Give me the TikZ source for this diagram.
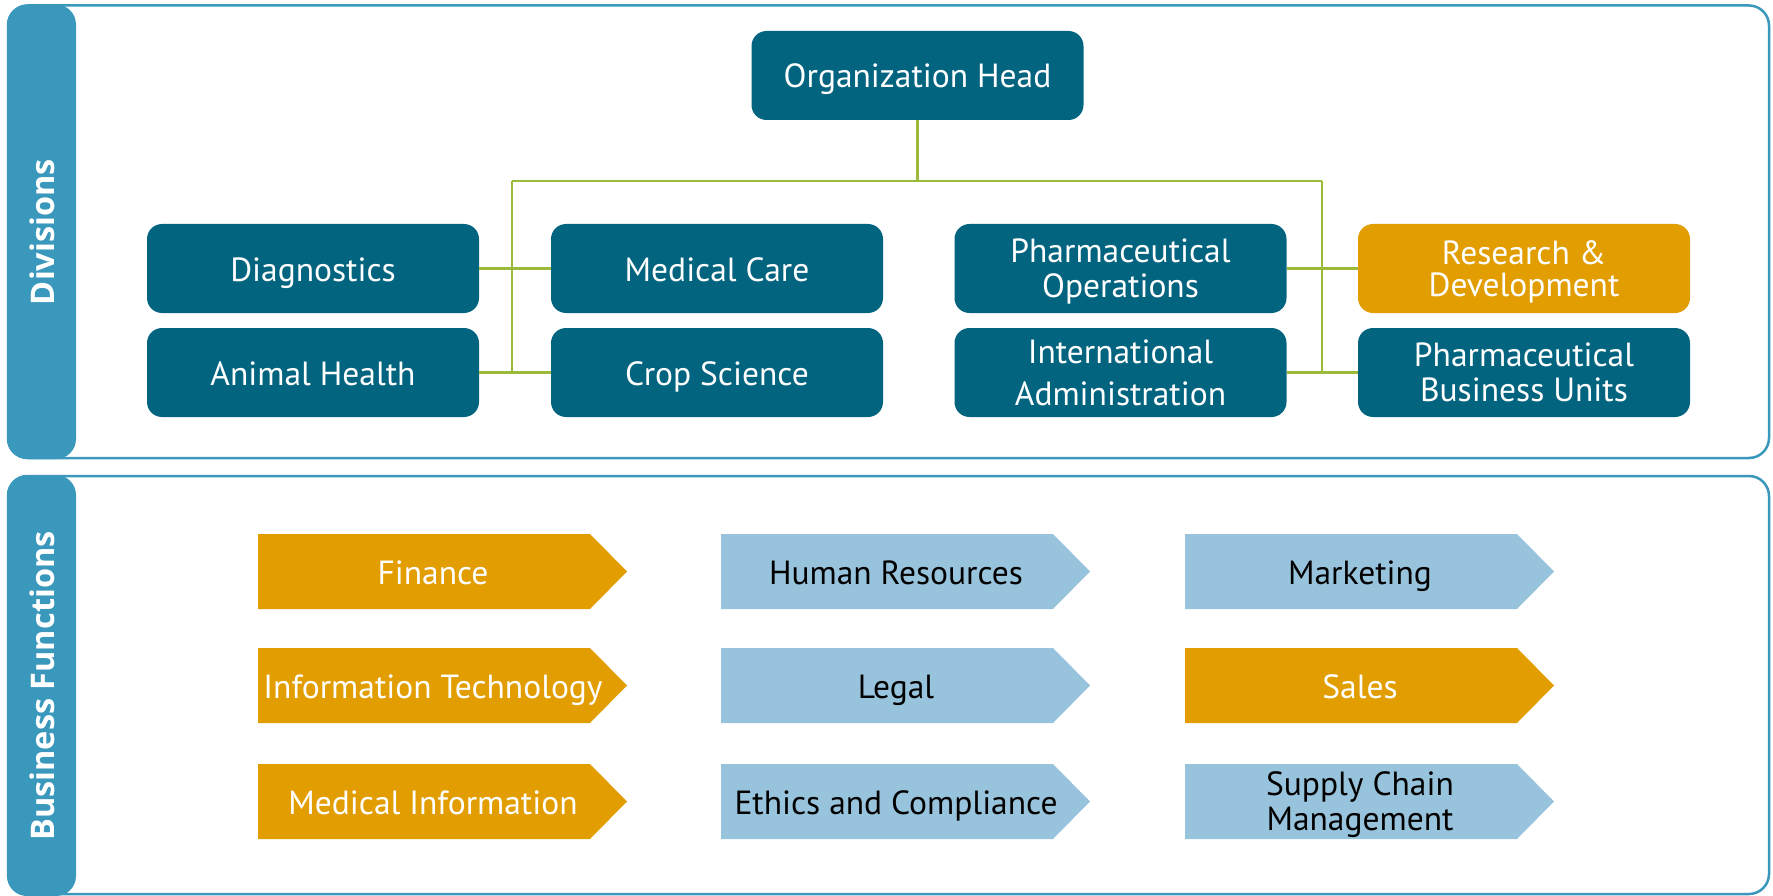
\documentclass[tikz,border=0pt]{standalone}
\usepackage{fontspec}
\setmainfont{PT Sans}
\newfontfamily\sidefont{Open Sans}
\definecolor{teal}{HTML}{036480}
\definecolor{orng}{HTML}{E29D00}
\definecolor{lblue}{HTML}{98C3DC}
\definecolor{barc}{HTML}{3A98BD}
\definecolor{grn}{HTML}{9BBA3A}
\newcommand\bstrut{\rule[-12pt]{0pt}{12pt}}
\newcommand\tstrut{\rule[0pt]{0pt}{37pt}}
\newcommand\twolines[1]{\raisebox{1.5pt}[0pt][0pt]{\begin{tabular}{@{}c@{}}#1\end{tabular}}}
\tikzset{
  panel/.style={draw=barc, line width=2.5pt, rounded corners=20pt, fill=white},
  sidebar/.style={fill=barc, rounded corners=20pt},
  sidelabel/.style={text=white, rotate=90, font=\sidefont\bfseries\fontsize{32.5}{36}\selectfont, inner sep=0},
  divbox/.style={fill=#1, text=white, rounded corners=15pt, minimum width=332pt, minimum height=89pt, inner sep=0pt, font=\fontsize{33.5}{35}\selectfont, execute at begin node=\tstrut, execute at end node=\bstrut},
  divbox/.default=teal,
  conn/.style={draw=grn, line width=2.7pt},
  chevtext/.style={inner sep=0pt, font=\fontsize{33.5}{35}\selectfont, execute at begin node=\tstrut, execute at end node=\bstrut}
}
\newcommand\chev[6]{%
  \fill[#4] (#2,#3) -- ++(332,0) -- ++(37,37.5) -- ++(-37,37.5) -- ++(-332,0) -- cycle;
  \node[chevtext, text=#5] (#1) at (#2+175,#3+37.5) {#6};}
\begin{document}
\begin{tikzpicture}[x=1pt,y=-1pt]
\useasboundingbox (0,0) rectangle (1773,896);
% panels
\draw[panel] (8,5.5) rectangle (1769,458);
\fill[sidebar] (7,4.5) rectangle (76,459);
\node[sidelabel] (divl) at (42,232) {Divisions};
\draw[panel] (8,476) rectangle (1769,894);
\fill[sidebar] (7,475) rectangle (76,896);
\node[sidelabel] (bfl) at (42,686) {Business Functions};
% division boxes
\node[divbox] (oh) at (917.5,75.5) {Organization Head};
\node[divbox] (diag) at (313,268.5) {Diagnostics};
\node[divbox] (med) at (717,268.5) {Medical Care};
\node[divbox] (ah) at (313,372.5) {Animal Health};
\node[divbox] (crop) at (717,372.5) {Crop Science};
\node[divbox] (pops) at (1120.5,268.5) {\twolines{Pharmaceutical\\Operations}};
\node[divbox=orng] (rnd) at (1524,268.5) {\twolines{Research \&\\[-3pt]Development}};
\node[divbox] (iadm) at (1120.5,372.5) {\twolines{International\\[7pt]Administration}};
\node[divbox] (pbu) at (1524,372.5) {\twolines{Pharmaceutical\\Business Units}};
% connectors
\coordinate (jl) at (512,181);
\coordinate (jr) at (1322,181);
\draw[conn] (oh.south) -- (oh.south |- jl);
\draw[conn] (jl) -- (jr);
\draw[conn] (jl) -- (jl |- ah.east);
\draw[conn] (jr) -- (jr |- iadm.east);
\draw[conn] (diag.east) -- (med.west);
\draw[conn] (ah.east) -- (crop.west);
\draw[conn] (pops.east) -- (rnd.west);
\draw[conn] (iadm.east) -- (pbu.west);
% business functions
\chev{fin}{258}{534}{orng}{white}{Finance}
\chev{it}{258}{648}{orng}{white}{Information Technology}
\chev{mi}{258}{764}{orng}{white}{Medical Information}
\chev{hr}{721}{534}{lblue}{black}{Human Resources}
\chev{leg}{721}{648}{lblue}{black}{Legal}
\chev{eth}{721}{764}{lblue}{black}{Ethics and Compliance}
\chev{mkt}{1185}{534}{lblue}{black}{Marketing}
\chev{sal}{1185}{648}{orng}{white}{Sales}
\chev{scm}{1185}{764}{lblue}{black}{\twolines{Supply Chain\\Management}}
\end{tikzpicture}
\end{document}
